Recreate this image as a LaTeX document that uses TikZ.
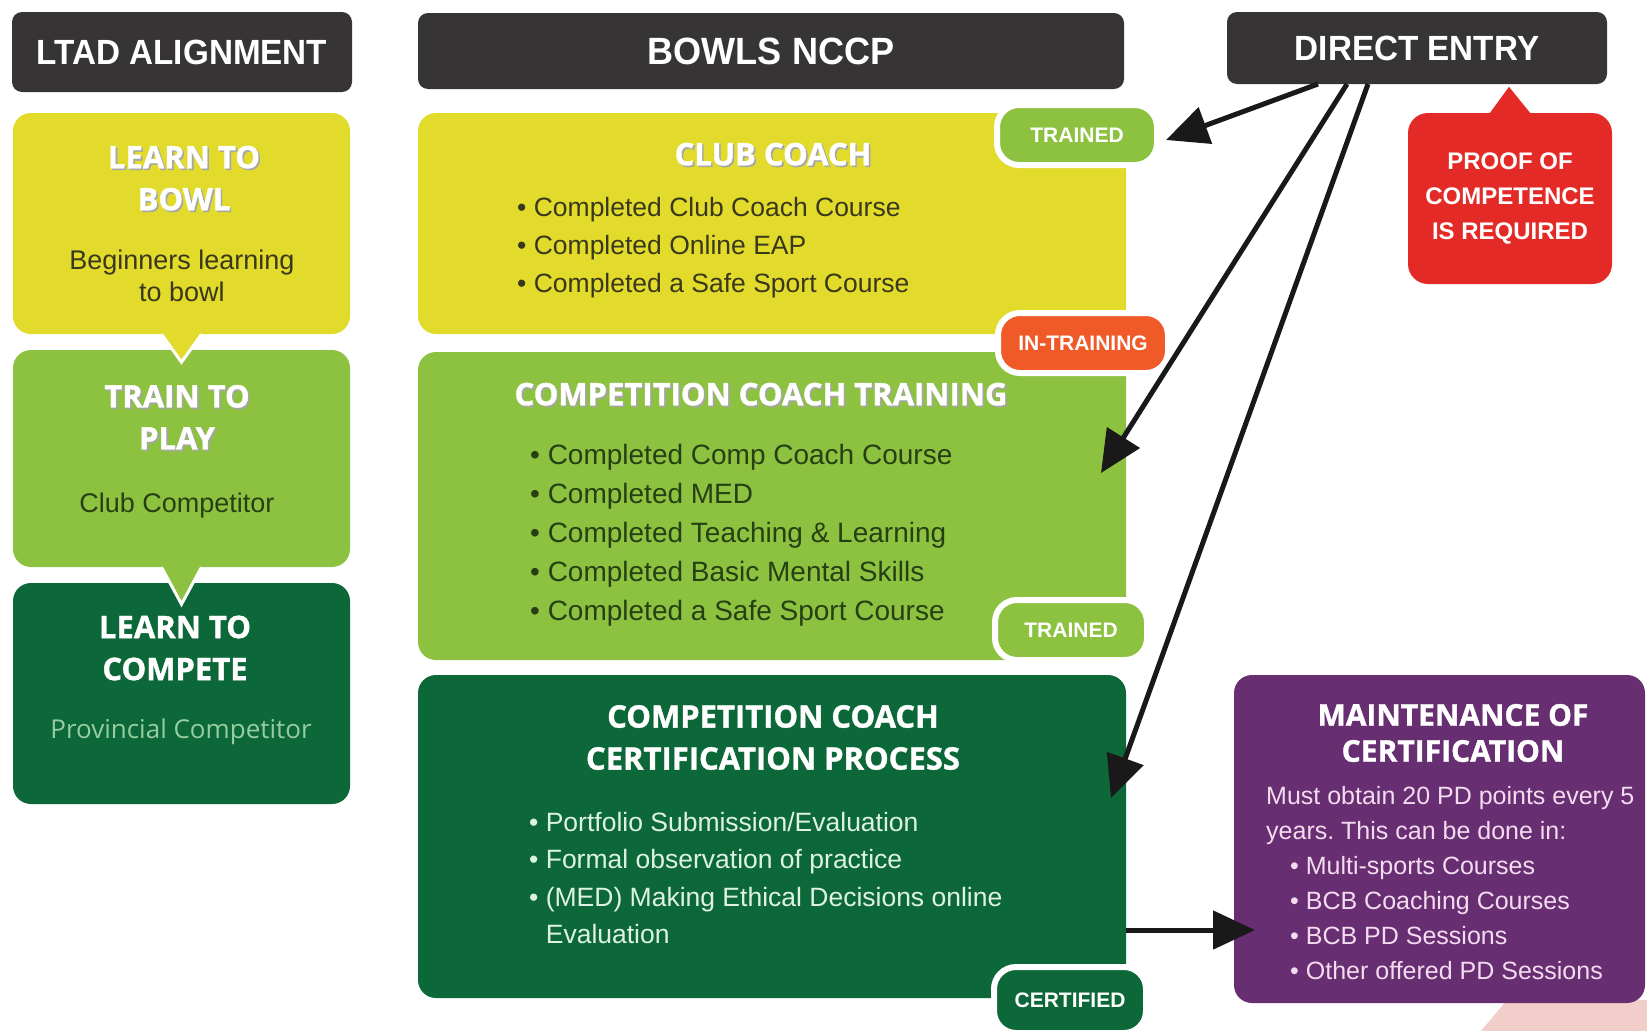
\documentclass[tikz,border=0pt]{standalone}
\usepackage{fontspec}
\setmainfont{Liberation Sans}
\newfontfamily\titlefont{Open Sans}
\newfontfamily\heavyfont{Open Sans}[FakeBold=1.2]
\newfontfamily\headfont{Liberation Sans}[FakeStretch=0.95]
\usepackage{tikz}
\usetikzlibrary{positioning}
\usetikzlibrary{arrows.meta}

\definecolor{headgrey}{RGB}{55,52,53}
\definecolor{bowlyellow}{RGB}{226,219,44}
\definecolor{playgreen}{RGB}{141,194,64}
\definecolor{competegreen}{RGB}{12,104,56}
\definecolor{intrainorange}{RGB}{240,90,40}
\definecolor{proofred}{RGB}{228,42,38}
\definecolor{maintpurple}{RGB}{104,46,114}
\definecolor{oliveink}{RGB}{58,56,28}
\definecolor{greenink}{RGB}{38,64,20}
\definecolor{mintink}{RGB}{222,242,228}
\definecolor{lilacink}{RGB}{244,220,240}
\definecolor{provgreen}{RGB}{150,205,160}
\definecolor{cornerpink}{RGB}{241,206,201}

% white heading with a soft grey drop shadow
\newcommand\shadowtxt[1]{\leavevmode\rlap{\kern1.6pt\raisebox{-1.6pt}{\color{black!35}#1}}#1}

\begin{document}
\frenchspacing
\begin{tikzpicture}[
	  x=1pt, y=-1pt,
	  header/.style = {fill=headgrey, rounded corners=10pt, text=white, inner sep=0pt, font=\headfont\bfseries\fontsize{35}{40}\selectfont},
	  panel/.style = {rounded corners=18pt, inner sep=0pt},
	  ttl/.style = {text=white, align=center, font=\heavyfont\bfseries\fontsize{31}{42}\selectfont},
	  desc/.style = {align=center, font=\fontsize{27}{32}\selectfont},
	  items/.style = {anchor=north west, align=left, inner sep=0pt, font=\fontsize{26.5}{38}\selectfont},
	  tag/.style = {rounded corners=22pt, draw=white, line width=6pt, text=white, inner sep=0pt, minimum height=60pt, font=\bfseries\fontsize{21}{24}\selectfont},
	  pointer/.style = {draw=white, line width=3pt},
	  entry/.style = {draw=black!90, line width=5pt, -{Triangle[length=42pt,width=38pt]}}
	]
	\path[use as bounding box, fill=white] (0,0) rectangle (1647,1031);
	\fill[cornerpink] (1481,1031) -- (1507,1000) -- (1647,1000) -- (1647,1031) -- cycle;

	% headers
	\node[header, minimum width=340pt, minimum height=80pt] (ltad) at (182,52) {LTAD ALIGNMENT};
	\node[header, minimum width=706pt, minimum height=76pt, font=\headfont\bfseries\fontsize{38}{44}\selectfont] (nccp) at (771,51) {BOWLS NCCP};
	\node[header, minimum width=380pt, minimum height=72pt] (direct) at (1417,48) {DIRECT ENTRY};

	% LTAD column
	\node[panel, fill=bowlyellow, minimum width=337pt, minimum height=221pt] (bowl) at (181.5,223.5) {};
	\node[panel, fill=playgreen, minimum width=337pt, minimum height=217pt] (play) at (181.5,458.5) {};
	\node[panel, fill=competegreen, minimum width=337pt, minimum height=221pt] (compete) at (181.5,693.5) {};
	\path[fill=bowlyellow, pointer] ([xshift=-20pt]bowl.south) -- ([yshift=-28pt]bowl.south) -- ([xshift=20pt]bowl.south);
	\path[fill=playgreen, pointer] ([xshift=-20pt]play.south) -- ([yshift=-37pt]play.south) -- ([xshift=20pt]play.south);

	\node[ttl] (bowlT) at (184,179) {\shadowtxt{LEARN TO}\\\shadowtxt{BOWL}};
	\node[desc, text=oliveink] (bowlD) at (182,276) {Beginners learning\\to bowl};
	\node[ttl] (playT) at (177,418) {\shadowtxt{TRAIN TO}\\\shadowtxt{PLAY}};
	\node[desc, text=greenink] (playD) at (177,506) {Club Competitor};
	\node[ttl] (competeT) at (175,648) {LEARN TO\\COMPETE};
	\node[desc, text=provgreen, font=\titlefont\fontsize{26}{32}\selectfont] (competeD) at (181,732) {Provincial Competitor};

	% NCCP column
	\node[panel, fill=bowlyellow, minimum width=708pt, minimum height=221pt] (club) at (772,223.5) {};
	\node[panel, fill=playgreen, minimum width=708pt, minimum height=308pt] (train) at (772,506) {};
	\node[panel, fill=competegreen, minimum width=708pt, minimum height=323pt] (cert) at (772,836.5) {};

	\node[ttl] (clubT) at (773,155) {\shadowtxt{CLUB COACH}};
	\node[items, text=oliveink] (clubL) at (517,197) {\textbullet\ Completed Club Coach Course\\
	  \textbullet\ Completed Online EAP\\
	  \textbullet\ Completed a Safe Sport Course};
	\node[ttl] (trainT) at (761,395) {\shadowtxt{COMPETITION COACH TRAINING}};
	\node[items, text=greenink, font=\fontsize{28}{39}\selectfont] (trainL) at (530,444) {\textbullet\ Completed Comp Coach Course\\
	  \textbullet\ Completed MED\\
	  \textbullet\ Completed Teaching \& Learning\\
	  \textbullet\ Completed Basic Mental Skills\\
	  \textbullet\ Completed a Safe Sport Course};
	\node[ttl] (certT) at (773,737.5) {COMPETITION COACH\\CERTIFICATION PROCESS};
	\node[items, text=mintink, font=\fontsize{26.5}{37.5}\selectfont] (certL) at (529,812) {\textbullet\ Portfolio Submission/Evaluation\\
	  \textbullet\ Formal observation of practice\\
	  \textbullet\ (MED) Making Ethical Decisions online\\
	  \hphantom{\textbullet\ }Evaluation};

	% status tags
	\node[tag, fill=playgreen, minimum width=160pt] (trainedA) at (1077,135) {TRAINED};
	\node[tag, fill=intrainorange, minimum width=170pt] (intrain) at (1083,343) {IN-TRAINING};
	\node[tag, fill=playgreen, minimum width=152pt] (trainedB) at (1071,630) {TRAINED};
	\node[tag, fill=competegreen, minimum width=152pt, minimum height=66pt] (certified) at (1070,1000) {CERTIFIED};

	% right side
	\node[panel, fill=proofred, rounded corners=20pt, minimum width=204pt, minimum height=171pt, text=white, align=center, font=\bfseries\fontsize{24}{35}\selectfont] (proof) at (1510,198.5) {PROOF OF\\COMPETENCE\\IS REQUIRED};
	\path[fill=proofred] ([xshift=-20pt]proof.north) -- ([xshift=-1pt,yshift=26pt]proof.north) -- ([xshift=20pt]proof.north) -- cycle;

	\node[panel, fill=maintpurple, minimum width=411pt, minimum height=328pt] (maint) at (1439.5,839) {};
	\node[ttl, font=\heavyfont\bfseries\fontsize{30}{36}\selectfont] (maintT) at (1453,733) {MAINTENANCE OF\\CERTIFICATION};
	\node[items, text=lilacink, font=\fontsize{25}{35}\selectfont] (maintL) at (1266,786.5) {Must obtain 20 PD points every 5\\
	  years. This can be done in:\\
	  \hspace*{24pt}\textbullet\ Multi-sports Courses\\
	  \hspace*{24pt}\textbullet\ BCB Coaching Courses\\
	  \hspace*{24pt}\textbullet\ BCB PD Sessions\\
	  \hspace*{24pt}\textbullet\ Other offered PD Sessions};

	% direct entry arrows
	\coordinate (d1) at (1318,84);
	\coordinate (d2) at (1347,84);
	\coordinate (d3) at (1368,84);
	\coordinate (trainIn) at (1101,473);
	\coordinate (certIn) at (1111,798);
	\coordinate (maintIn) at (1255,930);
	\draw[entry] (d1) -- ([xshift=6pt,yshift=-5pt]trainedA.east);
	\draw[entry] (d2) -- (trainIn);
	\draw[entry] (d3) -- (certIn);
	\draw[entry] (cert.east |- maintIn) -- (maintIn);
\end{tikzpicture}
\end{document}
